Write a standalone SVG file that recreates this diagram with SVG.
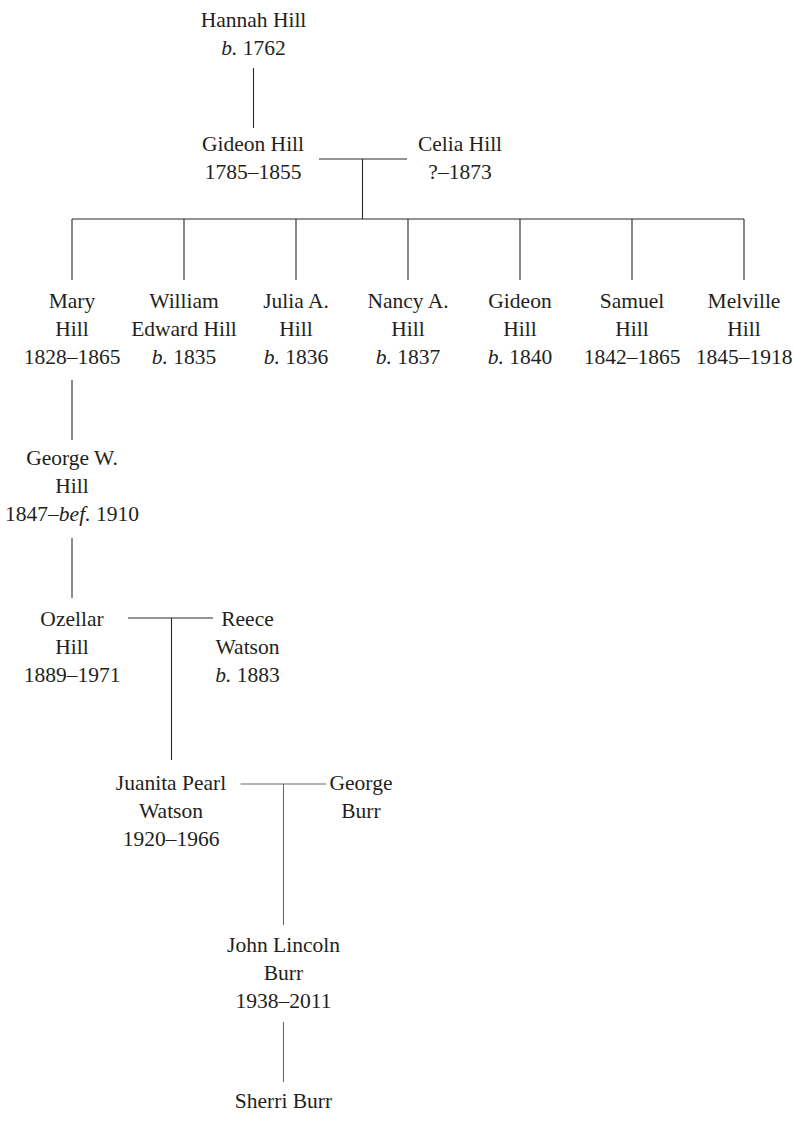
<svg xmlns="http://www.w3.org/2000/svg" width="794" height="1123" viewBox="0 0 794 1123">
<style>
text{font-family:"Liberation Serif","Times New Roman",serif;font-size:21.5px;fill:#231f20;text-anchor:middle}
.i{font-style:italic}
.ln{stroke:#2a2a2a;stroke-width:1.1;fill:none}
.lg{stroke:#6a6a6a;stroke-width:1.1;fill:none}
</style>
<rect width="794" height="1123" fill="#fff"/>
<g id="connectors">
<path class="ln" d="M253.5 68V128"/>
<path class="ln" d="M319 159H407M362.5 159V219"/>
<path class="ln" d="M72 219H744M72 219V280M184 219V280M296 219V280M408 219V280M520 219V280M632 219V280M744 219V280"/>
<path class="ln" d="M72 380V440"/>
<path class="ln" d="M72 538V598"/>
<path class="ln" d="M128 618H213M171.5 618V760"/>
<path class="lg" d="M240.5 784H326M283.5 784V925"/>
<path class="lg" d="M283.5 1022V1082"/>
</g>
<g id="hannah"><text x="253.5" y="27">Hannah Hill</text><text x="253.5" y="55"><tspan class="i">b.</tspan> 1762</text></g>
<g id="gideon"><text x="253" y="151">Gideon Hill</text><text x="253" y="179">1785–1855</text></g>
<g id="celia"><text x="460" y="151">Celia Hill</text><text x="460" y="179">?–1873</text></g>
<g id="mary"><text x="72" y="308">Mary</text><text x="72" y="336">Hill</text><text x="72" y="364">1828–1865</text></g>
<g id="william"><text x="184" y="308">William</text><text x="184" y="336">Edward Hill</text><text x="184" y="364"><tspan class="i">b.</tspan> 1835</text></g>
<g id="julia"><text x="296" y="308">Julia A.</text><text x="296" y="336">Hill</text><text x="296" y="364"><tspan class="i">b.</tspan> 1836</text></g>
<g id="nancy"><text x="408" y="308">Nancy A.</text><text x="408" y="336">Hill</text><text x="408" y="364"><tspan class="i">b.</tspan> 1837</text></g>
<g id="gideon-jr"><text x="520" y="308">Gideon</text><text x="520" y="336">Hill</text><text x="520" y="364"><tspan class="i">b.</tspan> 1840</text></g>
<g id="samuel"><text x="632" y="308">Samuel</text><text x="632" y="336">Hill</text><text x="632" y="364">1842–1865</text></g>
<g id="melville"><text x="744" y="308">Melville</text><text x="744" y="336">Hill</text><text x="744" y="364">1845–1918</text></g>
<g id="george-w"><text x="72" y="465">George W.</text><text x="72" y="493">Hill</text><text x="72" y="521">1847–<tspan class="i">bef.</tspan> 1910</text></g>
<g id="ozellar"><text x="72" y="626">Ozellar</text><text x="72" y="654">Hill</text><text x="72" y="682">1889–1971</text></g>
<g id="reece"><text x="247.5" y="626">Reece</text><text x="247.5" y="654">Watson</text><text x="247.5" y="682"><tspan class="i">b.</tspan> 1883</text></g>
<g id="juanita"><text x="171" y="790">Juanita Pearl</text><text x="171" y="818">Watson</text><text x="171" y="846">1920–1966</text></g>
<g id="george-burr"><text x="361" y="790">George</text><text x="361" y="818">Burr</text></g>
<g id="john"><text x="283.5" y="952">John Lincoln</text><text x="283.5" y="980">Burr</text><text x="283.5" y="1008">1938–2011</text></g>
<g id="sherri"><text x="283.5" y="1108">Sherri Burr</text></g>
</svg>
